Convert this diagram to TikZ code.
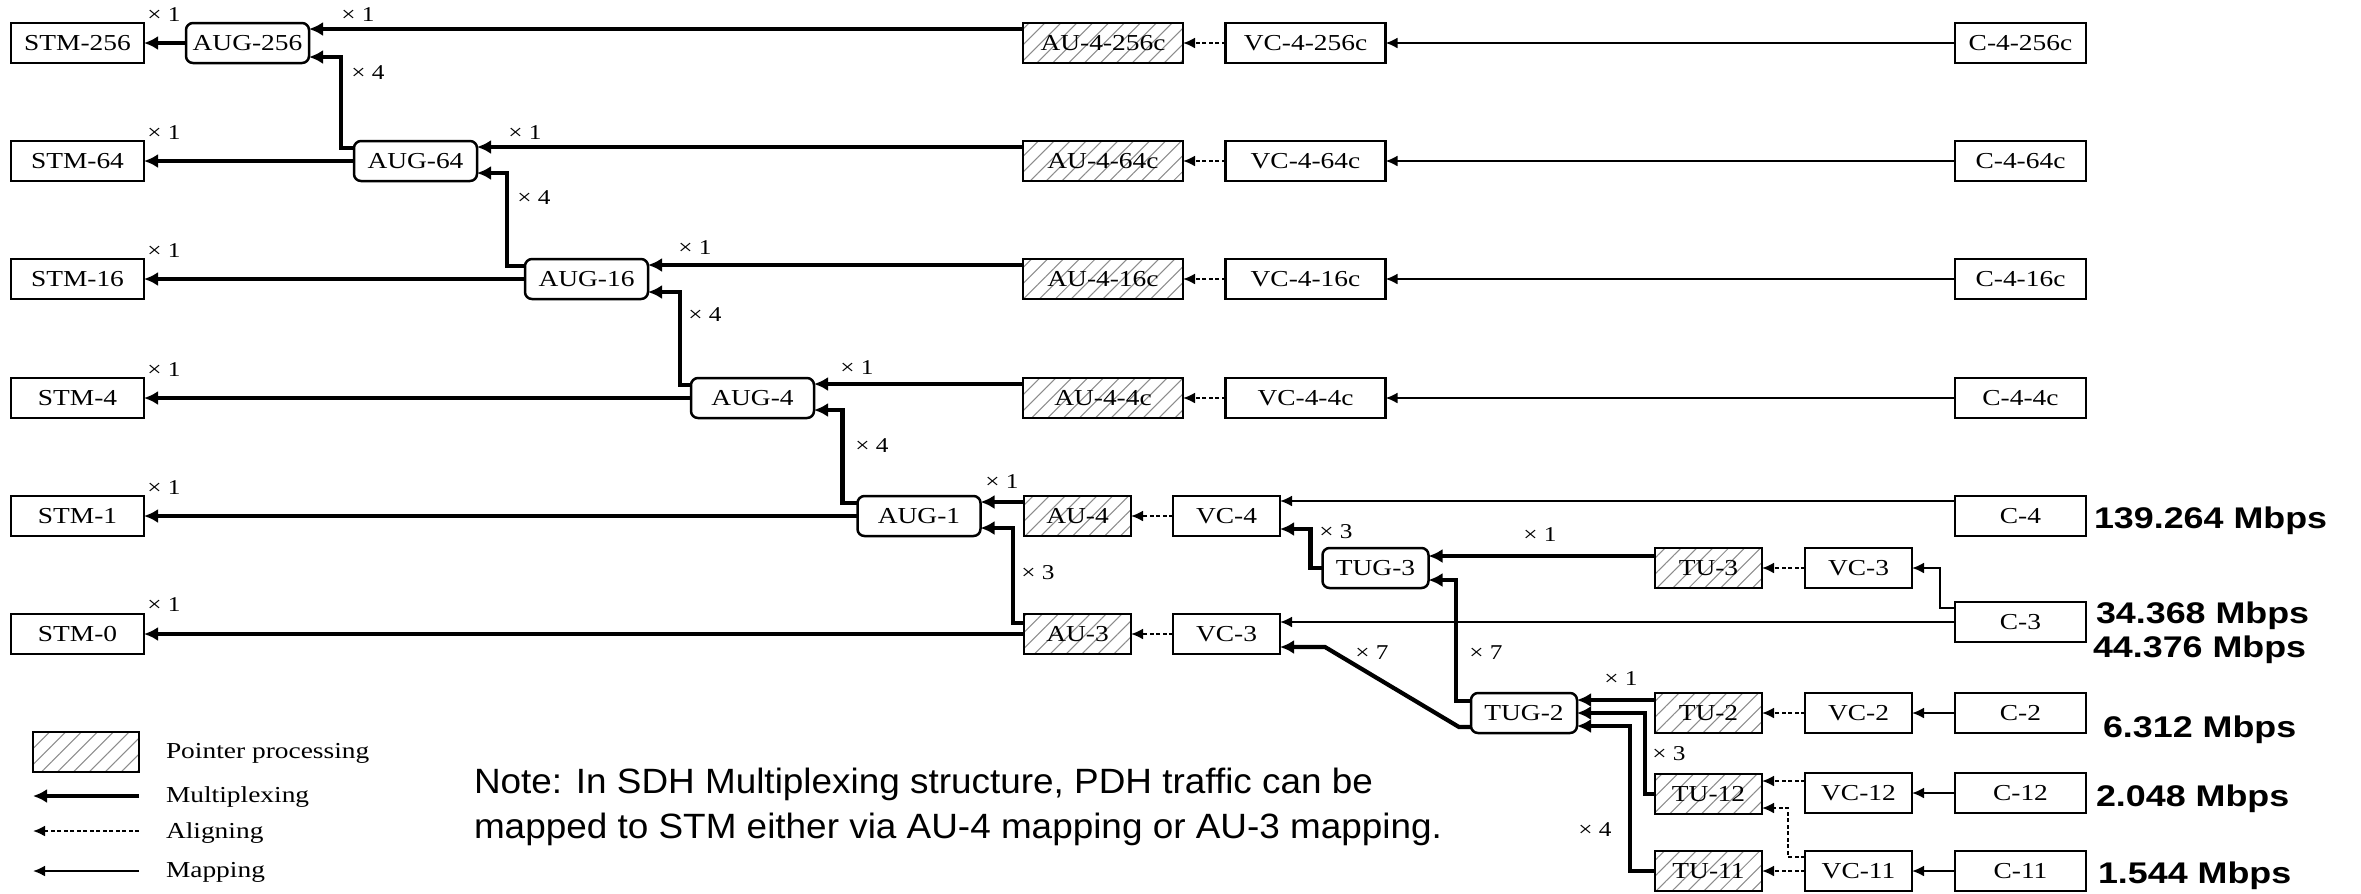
\documentclass[tikz,border=0pt]{standalone}
\usepackage{fontspec}
\usetikzlibrary{arrows.meta,patterns.meta}
\newfontfamily\boxfont{Liberation Serif}[FakeStretch=1.2]
\newfontfamily\ratefont{Liberation Sans}[FakeStretch=1.2]
\newfontfamily\notefont{Liberation Sans}[FakeStretch=1.05]
\newcommand\diagfont{\boxfont\fontsize{6.5}{7.8}\selectfont}
\newcommand\multfont{\boxfont\fontsize{6}{7.2}\selectfont}
\newcommand\ratesize{\ratefont\bfseries\fontsize{8.5}{10}\selectfont}
\newcommand\notesize{\notefont\fontsize{10}{12}\selectfont}

\begin{document}
\begin{tikzpicture}[x=0.1mm,y=-0.1mm,inner sep=0pt,outer sep=0pt,
plainbox/.style={draw,rectangle,line width=0.25mm,minimum height=4mm,font=\diagfont},
ptrbox/.style={plainbox,pattern={Lines[angle=45,distance=3.2pt,line width=0.3pt]},pattern color=gray!90},
stmbox/.style={plainbox,minimum width=13.3mm},
augbox/.style={plainbox,rounded corners=0.7mm,minimum width=12.3mm},
tugbox/.style={plainbox,rounded corners=0.7mm,minimum width=10.6mm},
wideptr/.style={ptrbox,minimum width=16mm},
widebox/.style={plainbox,minimum width=16mm},
smallptr/.style={ptrbox,minimum width=10.7mm},
smallbox/.style={plainbox,minimum width=10.7mm},
cbox/.style={plainbox,minimum width=13.1mm},
mult/.style={font=\multfont},
rate/.style={font=\ratesize,anchor=base west},
legtext/.style={font=\diagfont,anchor=base west},
muxing/.style={line width=0.42mm,->,>={Latex[length=1.4mm,width=1.4mm]}},
aligning/.style={line width=0.22mm,dash pattern=on 0.4mm off 0.25mm,->,>={Latex[length=1.2mm,width=1.1mm]}},
mapping/.style={line width=0.22mm,->,>={Latex[length=1.2mm,width=1.1mm]}}]
\useasboundingbox (0,0) rectangle (2361,893);

% STM-N column
\draw (77.5,43) node[stmbox] (stm256) {STM-256};
\draw (77.5,161) node[stmbox] (stm64) {STM-64};
\draw (77.5,279) node[stmbox] (stm16) {STM-16};
\draw (77.5,398) node[stmbox] (stm4) {STM-4};
\draw (77.5,516) node[stmbox] (stm1) {STM-1};
\draw (77.5,634) node[stmbox] (stm0) {STM-0};

% AUG chain
\draw (247.5,43) node[augbox] (aug256) {AUG-256};
\draw (415.5,161) node[augbox] (aug64) {AUG-64};
\draw (586.5,279) node[augbox] (aug16) {AUG-16};
\draw (752.5,398) node[augbox] (aug4) {AUG-4};
\draw (919,516) node[augbox] (aug1) {AUG-1};

% concatenated rows
\draw (1103,43) node[wideptr] (au256) {AU-4-256c};
\draw (1305.5,43) node[widebox] (vc256) {VC-4-256c};
\draw (2020.5,43) node[cbox] (c256) {C-4-256c};
\draw (1103,161) node[wideptr] (au64) {AU-4-64c};
\draw (1305.5,161) node[widebox] (vc64) {VC-4-64c};
\draw (2020.5,161) node[cbox] (c64) {C-4-64c};
\draw (1103,279) node[wideptr] (au16) {AU-4-16c};
\draw (1305.5,279) node[widebox] (vc16) {VC-4-16c};
\draw (2020.5,279) node[cbox] (c16) {C-4-16c};
\draw (1103,398) node[wideptr] (au4c) {AU-4-4c};
\draw (1305.5,398) node[widebox] (vc4c) {VC-4-4c};
\draw (2020.5,398) node[cbox] (c4c) {C-4-4c};

% AU-4 / AU-3 paths
\draw (1077.5,516) node[smallptr] (au4) {AU-4};
\draw (1226.5,516) node[smallbox] (vc4) {VC-4};
\draw (2020.5,516) node[cbox] (c4) {C-4};
\draw (1077.5,634) node[smallptr] (au3) {AU-3};
\draw (1226.5,634) node[smallbox] (vc3) {VC-3};
\draw (2020.5,622) node[cbox] (c3) {C-3};

% tributaries
\draw (1375.5,568) node[tugbox] (tug3) {TUG-3};
\draw (1708.5,568) node[smallptr] (tu3) {TU-3};
\draw (1858.5,568) node[smallbox] (vc3u) {VC-3};
\draw (1524,713) node[tugbox] (tug2) {TUG-2};
\draw (1708.5,713) node[smallptr] (tu2) {TU-2};
\draw (1858.5,713) node[smallbox] (vc2) {VC-2};
\draw (2020.5,713) node[cbox] (c2) {C-2};
\draw (1708.5,794) node[smallptr] (tu12) {TU-12};
\draw (1858.5,793) node[smallbox] (vc12) {VC-12};
\draw (2020.5,793) node[cbox] (c12) {C-12};
\draw (1708.5,871) node[smallptr] (tu11) {TU-11};
\draw (1858.5,871) node[smallbox] (vc11) {VC-11};
\draw (2020.5,871) node[cbox] (c11) {C-11};

% rates
\draw (2094,528) node[rate] (r139) {139.264 Mbps};
\draw (2096,623) node[rate] (r34) {34.368 Mbps};
\draw (2093,657) node[rate] (r44) {44.376 Mbps};
\draw (2103,737) node[rate] (r6) {6.312 Mbps};
\draw (2096,806) node[rate] (r2) {2.048 Mbps};
\draw (2098,883) node[rate] (r1) {1.544 Mbps};

% multiplexing into STM-N
\draw[muxing] (aug256) -- (stm256);
\draw[muxing] (aug64) -- (stm64);
\draw[muxing] (aug16) -- (stm16);
\draw[muxing] (aug4) -- (stm4);
\draw[muxing] (aug1) -- (stm1);
\draw[muxing] (au3) -- (stm0);

\draw[muxing] ([yshift=1.4mm]au256.west) -- ([yshift=1.4mm]aug256.east);
\draw[muxing] ([yshift=1.4mm]au64.west) -- ([yshift=1.4mm]aug64.east);
\draw[muxing] ([yshift=1.4mm]au16.west) -- ([yshift=1.4mm]aug16.east);
\draw[muxing] ([yshift=1.4mm]au4c.west) -- ([yshift=1.4mm]aug4.east);
\draw[muxing] ([yshift=1.4mm]au4.west) -- ([yshift=1.4mm]aug1.east);

\draw[muxing] ([yshift=1.3mm]aug64.west) -- ++(-13,0) |- ([yshift=-1.4mm]aug256.east);
\draw[muxing] ([yshift=1.3mm]aug16.west) -- ++(-18,0) |- ([yshift=-1.2mm]aug64.east);
\draw[muxing] ([yshift=1.3mm]aug4.west) -- ++(-11,0) |- ([yshift=-1.3mm]aug16.east);
\draw[muxing] ([yshift=1.3mm]aug1.west) -- ++(-15,0) |- ([yshift=-1.2mm]aug4.east);
\draw[muxing] ([yshift=1.1mm]au3.west) -- ++(-11,0) |- ([yshift=-1.2mm]aug1.east);

\draw[muxing] (tug3.west) -- ++(-12,0) |- ([yshift=-1.3mm]vc4.east);
\draw[muxing] ([yshift=1.2mm]tu3.west) -- ([yshift=1.2mm]tug3.east);
\draw[muxing] ([yshift=1.2mm]tug2.west) -- ++(-15,0) |- ([yshift=-1.2mm]tug3.east);
\draw[muxing] ([yshift=-1.4mm]tug2.west) -- ++(-12,0) -- ++(-134,-80) -- ([yshift=-1.3mm]vc3.east);
\draw[muxing] ([yshift=1.3mm]tu2.west) -- ([yshift=1.3mm]tug2.east);
\draw[muxing] (tu12.west) -- ++(-10,0) |- (tug2.east);
\draw[muxing] (tu11.west) -- ++(-25,0) |- ([yshift=-1.3mm]tug2.east);

% aligning
\draw[aligning] (vc256) -- (au256);
\draw[aligning] (vc64) -- (au64);
\draw[aligning] (vc16) -- (au16);
\draw[aligning] (vc4c) -- (au4c);
\draw[aligning] (vc4) -- (au4);
\draw[aligning] (vc3) -- (au3);
\draw[aligning] (vc3u) -- (tu3);
\draw[aligning] (vc2) -- (tu2);
\draw[aligning] ([yshift=1.2mm]vc12.west) -- ([yshift=1.2mm]vc12.west -| tu12.east);
\draw[aligning] ([yshift=1.4mm]vc11.west) -- ++(-17,0) |- ([yshift=-1.4mm]tu12.east);
\draw[aligning] (vc11) -- (tu11);

% mapping
\draw[mapping] (c256) -- (vc256);
\draw[mapping] (c64) -- (vc64);
\draw[mapping] (c16) -- (vc16);
\draw[mapping] (c4c) -- (vc4c);
\draw[mapping] ([yshift=1.5mm]c4.west) -- ([yshift=1.5mm]c4.west -| vc4.east);
\draw[mapping] (c3.west) -- (c3.west -| vc3.east);
\draw[mapping] ([yshift=1.4mm]c3.west) -- ++(-15,0) |- (vc3u.east);
\draw[mapping] (c2) -- (vc2);
\draw[mapping] (c12) -- (vc12);
\draw[mapping] (c11) -- (vc11);

% multiplication factors
\draw (164,15) node[mult] (xstm256) {× 1};
\draw (164,133) node[mult] (xstm64) {× 1};
\draw (164,251) node[mult] (xstm16) {× 1};
\draw (164,370) node[mult] (xstm4) {× 1};
\draw (164,488) node[mult] (xstm1) {× 1};
\draw (164,605) node[mult] (xstm0) {× 1};
\draw (358,15) node[mult] (xau256) {× 1};
\draw (525,133) node[mult] (xau64) {× 1};
\draw (695,248) node[mult] (xau16) {× 1};
\draw (857,368) node[mult] (xau4c) {× 1};
\draw (1002,482) node[mult] (xau4) {× 1};
\draw (368,73) node[mult] (xaug64) {× 4};
\draw (534,198) node[mult] (xaug16) {× 4};
\draw (705,315) node[mult] (xaug4) {× 4};
\draw (872,446) node[mult] (xaug1) {× 4};
\draw (1038,573) node[mult] (xau3) {× 3};
\draw (1336,532) node[mult] (xtug3) {× 3};
\draw (1540,535) node[mult] (xtu3) {× 1};
\draw (1486,653) node[mult] (xtug2a) {× 7};
\draw (1372,653) node[mult] (xtug2b) {× 7};
\draw (1621,679) node[mult] (xtu2) {× 1};
\draw (1669,754) node[mult] (xtu12) {× 3};
\draw (1595,830) node[mult] (xtu11) {× 4};

% legend
\draw (86,752) node[ptrbox,minimum width=10.6mm] (legptr) {};
\draw (166,758) node[legtext] (legptrtxt) {Pointer processing};
\coordinate (legmuxa) at (139,796);
\coordinate (legmuxb) at (33,796);
\draw[muxing] (legmuxa) -- (legmuxb);
\draw (166,802) node[legtext] (legmuxtxt) {Multiplexing};
\coordinate (legalia) at (139,831);
\coordinate (legalib) at (33,831);
\draw[aligning] (legalia) -- (legalib);
\draw (166,838) node[legtext] (legalitxt) {Aligning};
\coordinate (legmapa) at (139,871);
\coordinate (legmapb) at (33,871);
\draw[mapping] (legmapa) -- (legmapb);
\draw (166,877) node[legtext] (legmaptxt) {Mapping};

% note
\draw (474,793) node[font=\notesize,anchor=base west] (note1) {Note: In SDH Multiplexing structure, PDH traffic can be};
\draw (474,838) node[font=\notesize,anchor=base west] (note2) {mapped to STM either via AU-4 mapping or AU-3 mapping.};
\end{tikzpicture}
\end{document}
